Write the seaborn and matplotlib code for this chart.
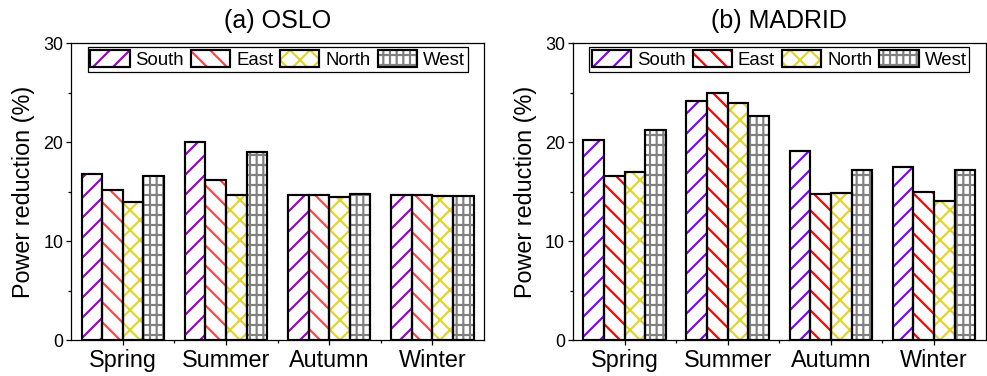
import pandas as pd
import seaborn as sns
import matplotlib.pyplot as plt
from matplotlib.patches import Rectangle, Patch
from matplotlib.legend_handler import HandlerTuple
import matplotlib.ticker as mtick

seasons = ['Spring', 'Summer', 'Autumn', 'Winter']
directions = ['South', 'East', 'North', 'West']

oslo_south = [16.8, 20.0, 14.7, 14.65]
oslo_east = [15.15, 16.2, 14.65, 14.65]
oslo_north = [14.0, 14.7, 14.5, 14.55]
oslo_west = [16.6, 19.0, 14.75, 14.55]

madrid_south = [20.2, 24.2, 19.1, 17.5]
madrid_east = [16.6, 25.0, 14.75, 15.0]
madrid_north = [17.0, 24.0, 14.9, 14.1]
madrid_west = [21.2, 22.7, 17.2, 17.2]

oslo_colors = ['#9900CC', '#FF4545', '#E3D42A', '#808080']
madrid_colors = ['#7F00FF', '#FF0000', '#E3D42A', '#808080']
hatches = ['//', '\\\\', 'xx', '--|||']

sns.set_style('ticks')
plt.rcParams['font.family'] = ['Liberation Sans', 'DejaVu Sans']
plt.rcParams['hatch.linewidth'] = 1.3
plt.rcParams['axes.linewidth'] = 0.75
for key in ['text.color', 'axes.labelcolor', 'xtick.color', 'ytick.color', 'axes.edgecolor']:
    plt.rcParams[key] = 'black'


def make_df(values):
    rows = []
    for d, vals in zip(directions, values):
        for s, v in zip(seasons, vals):
            rows.append({'season': s, 'direction': d, 'value': v})
    return pd.DataFrame(rows)


def draw_panel(ax, df, colors, title):
    sns.barplot(data=df, x='season', y='value', hue='direction', order=seasons,
                hue_order=directions, palette=colors, saturation=1, width=0.8,
                errorbar=None, legend=False, ax=ax)
    for cont, c, h in zip(ax.containers, colors, hatches):
        for bar in cont:
            bar.set_facecolor('white')
            bar.set_edgecolor(c)
            bar.set_hatch(h)
            bar.set_linewidth(0)
            ax.add_patch(Rectangle(bar.get_xy(), bar.get_width(), bar.get_height(),
                                   fill=False, ec='black', lw=1.3,
                                   zorder=bar.get_zorder() + 0.1))
    ax.set_xlim(-0.5, 3.5)
    ax.set_ylim(0, 30)
    ax.yaxis.set_major_locator(mtick.MultipleLocator(10))
    ax.yaxis.set_minor_locator(mtick.MultipleLocator(5))
    ax.xaxis.set_minor_locator(mtick.FixedLocator([0.5, 1.5, 2.5]))
    ax.tick_params(axis='both', which='major', direction='out', length=3, width=0.75)
    ax.tick_params(axis='both', which='minor', direction='out', length=1.8, width=0.75)
    ax.tick_params(axis='y', which='major', labelsize=10.7, pad=1.8)
    ax.tick_params(axis='x', which='major', labelsize=14, pad=2.5)
    for sp in ax.spines.values():
        sp.set_visible(True)
        sp.set_color('black')
    ax.set_xlabel('')
    ax.set_ylabel('Power reduction (%)', fontsize=14, labelpad=5)
    ax.set_title(title, fontsize=15, pad=9)

    handles = [(Patch(facecolor='white', edgecolor=c, hatch=h, lw=0),
                Patch(fill=False, edgecolor='black', lw=1.3))
               for c, h in zip(colors, hatches)]
    leg = ax.legend(handles, directions, handler_map={tuple: HandlerTuple(ndivide=1)},
                    loc='upper center', ncol=4, fontsize=11.2, frameon=True,
                    fancybox=False, framealpha=1, edgecolor='black',
                    handlelength=2.1, handleheight=1.07, handletextpad=0.32,
                    columnspacing=0.37, borderpad=0.15, borderaxespad=0.2)
    leg.get_frame().set_linewidth(0.75)


fig = plt.figure(figsize=(987 / 120, 376 / 120), dpi=120)
ax1 = fig.add_axes([0.0722, 0.0957, 0.4181, 0.789])
ax2 = fig.add_axes([0.5805, 0.0957, 0.4181, 0.789])

draw_panel(ax1, make_df([oslo_south, oslo_east, oslo_north, oslo_west]),
           oslo_colors, '(a) OSLO')
draw_panel(ax2, make_df([madrid_south, madrid_east, madrid_north, madrid_west]),
           madrid_colors, '(b) MADRID')

fig.savefig('out.png', dpi=120)
